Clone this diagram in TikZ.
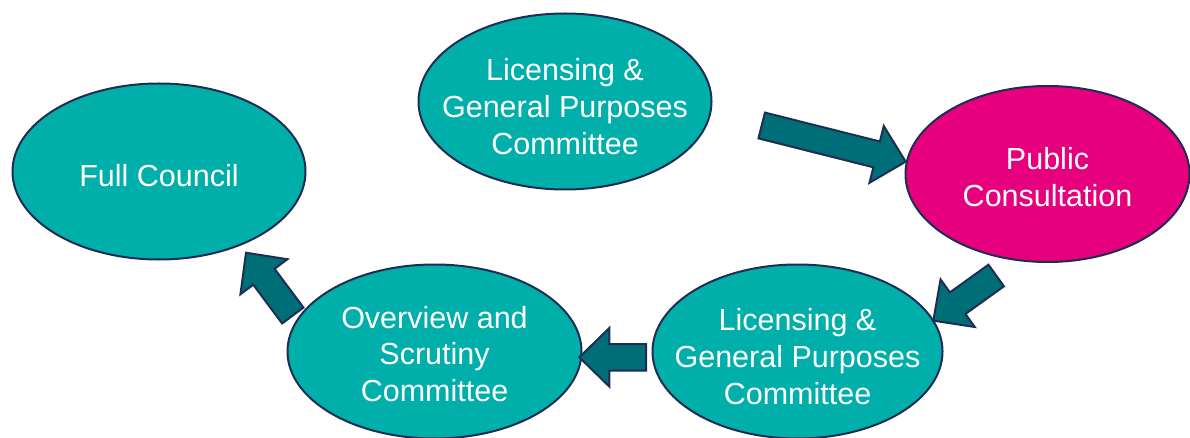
\documentclass[tikz,border=0pt]{standalone}
\usepackage{fontspec}
\setmainfont{Liberation Sans}
\usetikzlibrary{shapes.geometric,calc}
\definecolor{tealfill}{HTML}{00AFA9}
\definecolor{magentafill}{HTML}{E6007E}
\definecolor{arrowfill}{HTML}{006E76}
\definecolor{navyline}{HTML}{1F2D52}
\newcommand{\tstrut}[1]{\rule{0pt}{#1pt}}
\tikzset{
  stage/.style={ellipse, draw=navyline, line width=2pt, fill=tealfill, text=white,
    inner xsep=-45pt, inner ysep=-35pt, align=center, font=\fontsize{30.5}{36.7}\selectfont},
  blockarrow/.style={draw=navyline, line width=2pt, fill=arrowfill, line join=miter},
}
\newcommand{\blockarr}[2]{%
  \coordinate (hb) at ($(#2)!30pt!(#1)$);
  \draw[blockarrow] ($(#1)!13.3pt!90:(#2)$) -- ($(hb)!13.3pt!90:(#2)$)
    -- ($(hb)!29.3pt!90:(#2)$) -- (#2) -- ($(hb)!29.3pt!-90:(#2)$)
    -- ($(hb)!13.3pt!-90:(#2)$) -- ($(#1)!13.3pt!-90:(#2)$) -- cycle;}
\begin{document}
\begin{tikzpicture}[x=1pt,y=-1pt]
\useasboundingbox[fill=white] (0,0) rectangle (1190,438);
\node[stage, minimum width=293pt, minimum height=176pt] (lgp1) at (565,101.5)
  {\tstrut{32}Licensing \&\\General Purposes\\Committee};
\node[stage, fill=magentafill, minimum width=284pt, minimum height=176pt] (pc) at (1047.5,174)
  {\tstrut{28}Public\\Consultation};
\node[stage, minimum width=293pt, minimum height=176pt] (fc) at (159,171.5)
  {\tstrut{30}Full Council};
\node[stage, minimum width=294pt, minimum height=174pt] (ov) at (434.5,351.5)
  {\tstrut{27}Overview and\\Scrutiny\\Committee};
\node[stage, minimum width=290pt, minimum height=174pt] (lgp2) at (797.5,351.5)
  {\tstrut{32}Licensing \&\\General Purposes\\Committee};
\coordinate (a1s) at (761.7,125.5);
\coordinate (a1e) at (905.7,161.7);
\coordinate (a2s) at (996.2,275.5);
\coordinate (a2e) at (933.3,320.7);
\coordinate (a3s) at (646,357.3);
\coordinate (a3e) at (579.3,357.3);
\coordinate (a4s) at (292.8,315.5);
\coordinate (a4e) at (246,252.7);
\blockarr{a1s}{a1e}
\blockarr{a2s}{a2e}
\blockarr{a3s}{a3e}
\blockarr{a4s}{a4e}
\end{tikzpicture}
\end{document}
